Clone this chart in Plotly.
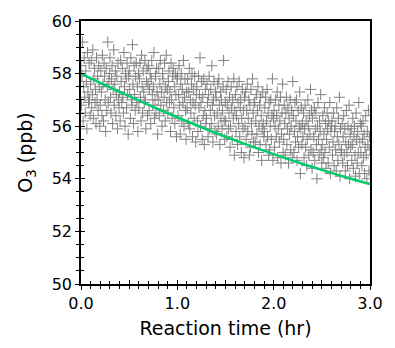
import numpy as np
import plotly.graph_objects as go

# ---- scatter data: O3 readings (ppb), 30 consecutive 0.1-hr bins of 18 readings each ----
o3_bins = [
    [58.3, 56.8, 57.9, 59.2, 56.2, 57.5, 58.6, 57.1, 56.5, 58.1, 57.7, 55.9, 58.8, 57.3, 56.9, 58.4, 57.0, 56.4],
    [57.6, 58.5, 56.7, 57.2, 58.9, 56.3, 57.8, 58.2, 56.9, 57.4, 56.1, 58.6, 57.0, 57.9, 56.6, 58.3, 57.5, 56.0],
    [56.8, 58.1, 57.3, 56.4, 58.7, 57.6, 56.2, 58.4, 57.9, 57.0, 55.8, 58.2, 56.6, 57.5, 59.2, 56.9, 57.7, 58.0],
    [58.6, 57.1, 56.5, 57.8, 58.3, 56.1, 57.4, 58.9, 56.8, 57.6, 58.1, 56.4, 57.2, 57.9, 55.9, 58.4, 57.0, 56.7],
    [57.3, 56.2, 58.5, 57.7, 56.9, 58.2, 57.1, 56.5, 58.8, 57.5, 56.0, 58.0, 57.8, 56.7, 58.4, 57.2, 55.7, 57.9],
    [58.1, 57.4, 56.3, 58.6, 57.0, 56.8, 59.1, 57.6, 56.1, 58.3, 57.2, 56.6, 57.9, 58.4, 56.9, 57.5, 55.8, 58.0],
    [56.7, 57.8, 58.4, 57.1, 56.2, 58.7, 57.5, 56.5, 58.1, 57.3, 56.9, 58.5, 57.0, 55.9, 57.7, 58.2, 56.4, 57.6],
    [58.3, 56.6, 57.4, 58.0, 56.1, 57.8, 58.5, 57.2, 56.8, 57.5, 58.8, 56.3, 57.0, 57.9, 56.5, 58.2, 57.3, 55.7],
    [57.0, 58.2, 56.4, 57.6, 58.5, 56.8, 57.3, 56.0, 58.0, 57.8, 56.6, 57.1, 58.4, 56.2, 57.5, 58.7, 56.9, 57.4],
    [56.5, 57.7, 58.1, 56.9, 57.3, 55.8, 58.4, 57.0, 56.3, 57.9, 58.2, 56.7, 57.5, 56.1, 58.0, 57.2, 55.6, 57.8],
    [57.9, 56.4, 57.2, 58.3, 56.8, 55.7, 57.6, 58.0, 56.2, 57.4, 56.9, 58.5, 56.0, 57.1, 57.8, 56.6, 55.5, 57.3],
    [56.7, 57.8, 56.1, 57.3, 58.2, 55.9, 57.0, 56.5, 57.6, 58.0, 55.6, 56.9, 57.4, 56.3, 57.9, 56.8, 55.4, 57.2],
    [57.5, 56.2, 55.8, 57.9, 56.7, 57.2, 58.6, 56.0, 56.9, 57.7, 55.5, 57.1, 56.4, 57.8, 55.3, 56.6, 57.4, 56.1],
    [56.3, 57.6, 56.9, 55.6, 57.2, 57.9, 55.9, 56.6, 57.4, 56.1, 58.3, 56.8, 55.4, 57.0, 57.7, 56.4, 55.8, 57.3],
    [57.1, 55.7, 56.5, 57.6, 56.0, 57.8, 56.8, 55.3, 57.3, 56.3, 57.0, 55.9, 56.6, 57.5, 58.5, 56.2, 55.5, 56.9],
    [56.2, 57.4, 55.6, 56.8, 57.7, 55.9, 56.5, 57.1, 55.2, 56.0, 57.5, 56.7, 55.5, 57.0, 56.3, 57.8, 54.9, 56.6],
    [57.2, 55.8, 56.4, 57.5, 55.3, 56.9, 56.1, 57.7, 55.6, 56.7, 57.0, 55.0, 56.3, 57.4, 55.9, 56.6, 54.8, 57.1],
    [56.0, 57.3, 55.5, 56.6, 57.6, 55.8, 56.3, 57.0, 54.9, 56.8, 55.2, 57.4, 56.1, 55.7, 57.8, 56.5, 55.4, 56.9],
    [56.9, 55.4, 56.2, 57.2, 55.7, 56.6, 57.5, 55.0, 56.0, 56.8, 55.3, 57.1, 56.4, 54.7, 55.9, 57.3, 56.1, 55.6],
    [55.8, 56.7, 57.1, 55.3, 56.2, 57.4, 55.6, 56.5, 54.9, 56.9, 55.1, 56.0, 57.0, 55.5, 56.4, 57.8, 54.7, 56.3],
    [56.6, 55.2, 56.0, 57.0, 55.6, 56.4, 57.3, 54.8, 55.9, 56.8, 55.4, 56.2, 57.1, 54.6, 55.7, 56.5, 57.6, 55.0],
    [55.5, 56.8, 56.1, 54.9, 56.5, 57.1, 55.3, 55.9, 56.7, 54.6, 56.3, 55.7, 57.0, 55.1, 56.0, 56.6, 54.8, 57.7],
    [56.4, 55.0, 55.8, 56.9, 55.4, 56.2, 57.0, 54.7, 55.6, 56.6, 55.2, 56.0, 57.3, 54.2, 55.9, 56.7, 55.3, 56.1],
    [55.6, 56.5, 54.8, 55.9, 56.8, 55.2, 56.2, 54.5, 55.5, 57.0, 56.0, 54.9, 56.4, 55.7, 57.4, 55.1, 56.6, 54.4],
    [56.3, 55.0, 55.6, 56.7, 54.7, 55.9, 56.5, 55.3, 54.0, 56.0, 56.9, 55.5, 54.9, 56.2, 55.8, 57.2, 55.1, 54.6],
    [55.3, 56.4, 54.8, 55.7, 56.7, 55.0, 56.1, 54.4, 55.5, 56.5, 55.9, 54.6, 56.2, 55.2, 56.9, 54.2, 55.8, 56.0],
    [56.2, 54.9, 55.4, 56.5, 54.5, 55.8, 56.0, 55.1, 54.3, 56.7, 55.6, 54.7, 56.3, 55.3, 57.1, 54.1, 55.9, 55.0],
    [55.1, 56.1, 54.6, 55.6, 56.4, 54.9, 55.9, 54.3, 55.4, 56.6, 55.0, 54.5, 56.0, 55.3, 56.8, 54.0, 55.7, 55.2],
    [55.9, 54.7, 55.3, 56.3, 54.4, 55.6, 56.0, 54.9, 54.1, 56.5, 55.5, 54.6, 55.8, 55.0, 56.9, 54.2, 55.4, 56.1],
    [55.0, 56.0, 54.5, 55.5, 56.2, 54.8, 55.7, 54.2, 55.2, 56.4, 54.9, 54.0, 55.8, 55.3, 56.6, 54.3, 55.6, 55.1],
]
o3_obs = [v for b in o3_bins for v in b]
t_start, t_end = 0.0, 3.0
t_obs = np.linspace(t_start, t_end, len(o3_obs))  # regular instrument sampling

# ---- fitted decay curve (green) ----
t_fit = [0.0, 0.25, 0.5, 0.75, 1.0, 1.25, 1.5, 1.75, 2.0, 2.25, 2.5, 2.75, 3.0]
o3_fit = [58.00, 57.56, 57.14, 56.73, 56.34, 55.96, 55.60, 55.26, 54.94, 54.63, 54.34, 54.06, 53.80]

# ---- ticks ----
x_labelvals = [0.0, 1.0, 2.0, 3.0]
x_halfvals = [0.0, 0.5, 1.0, 1.5, 2.0, 2.5, 3.0]
y_tickvals = [50, 52, 54, 56, 58, 60]

font_family = "DejaVu Sans"
fig = go.Figure()

fig.add_trace(go.Scatter(
    x=t_obs, y=o3_obs, mode="markers",
    marker=dict(symbol="cross-thin", size=8, color="rgba(0,0,0,0)",
                line=dict(width=1, color="rgb(130,130,130)")),
    hoverinfo="skip", showlegend=False))

fig.add_trace(go.Scatter(
    x=t_fit, y=o3_fit, mode="lines", line=dict(color="rgb(0,204,110)", width=2.5, shape="spline"),
    showlegend=False, hoverinfo="skip"))

# invisible anchor trace for the overlay axes (inner tick halves)
fig.add_trace(go.Scatter(x=t_fit[:1], y=o3_fit[:1], xaxis="x2", yaxis="y2", mode="markers",
                         marker=dict(opacity=0), showlegend=False, hoverinfo="skip"))

axis_common = dict(showgrid=False, zeroline=False, linecolor="black", tickcolor="black",
                   tickwidth=1.3)

fig.update_layout(
    width=395, height=348,
    margin=dict(l=81, r=23, t=20, b=62),
    paper_bgcolor="white", plot_bgcolor="white",
    font=dict(family=font_family, color="black"),
    xaxis=dict(range=[t_start, t_end], tickmode="array", tickvals=x_labelvals, tickformat=".1f",
               ticks="outside", ticklen=4, showline=True, linewidth=1.5, mirror=True,
               minor=dict(dtick=0.1, ticks="outside", ticklen=3, tickcolor="black", tickwidth=1),
               tickfont=dict(size=16, family=font_family),
               title=dict(text="Reaction time (hr)", font=dict(size=19, family=font_family), standoff=10),
               **axis_common),
    yaxis=dict(range=[50, 60], tickmode="array", tickvals=y_tickvals,
               ticks="outside", ticklen=4, showline=True, linewidth=1.5, mirror=True,
               minor=dict(dtick=0.5, ticks="outside", ticklen=3, tickcolor="black", tickwidth=1),
               tickfont=dict(size=16, family=font_family),
               title=dict(text="O<sub>3</sub> (ppb)", font=dict(size=19, family=font_family), standoff=14),
               **axis_common),
    xaxis2=dict(overlaying="x", matches="x", anchor="y2", side="bottom",
                tickmode="array", tickvals=x_halfvals, showticklabels=False,
                ticks="inside", ticklen=4, showline=False,
                minor=dict(dtick=0.1, ticks="inside", ticklen=3, tickcolor="black", tickwidth=1),
                **axis_common),
    yaxis2=dict(overlaying="y", matches="y", anchor="x2", side="left",
                tickmode="array", tickvals=y_tickvals, showticklabels=False,
                ticks="inside", ticklen=4, showline=False,
                minor=dict(dtick=0.5, ticks="inside", ticklen=3, tickcolor="black", tickwidth=1),
                **axis_common),
)

fig.write_html("out.html")
